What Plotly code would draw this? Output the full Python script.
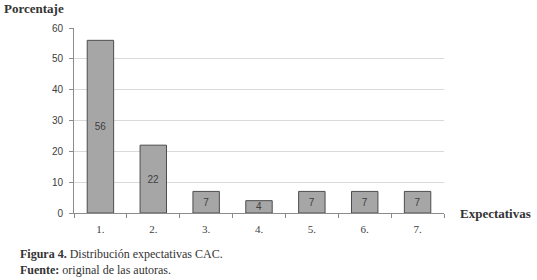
import plotly.graph_objects as go

categories = ["1.", "2.", "3.", "4.", "5.", "6.", "7."]
values = [56, 22, 7, 4, 7, 7, 7]
y_ticks = [0, 10, 20, 30, 40, 50, 60]

fig = go.Figure()
fig.add_trace(go.Bar(
    x=categories, y=values,
    text=[str(v) for v in values],
    textposition="inside", insidetextanchor="middle",
    constraintext="none", textangle=0,
    textfont=dict(family="Liberation Sans, Arial", size=10, color="#404040"),
    marker=dict(color="#a6a6a6", line=dict(color="#4d4d4d", width=1)),
    width=0.5,
    cliponaxis=False,
))

fig.update_layout(
    width=537, height=280,
    margin=dict(l=74, r=93, t=28, b=67),
    plot_bgcolor="white", paper_bgcolor="white",
    showlegend=False,
    uniformtext=dict(minsize=10, mode="show"),
    xaxis=dict(
        type="category", showgrid=False, showline=True, linecolor="#8c8c8c", linewidth=1,
        ticks="outside", tickson="boundaries", ticklen=4, tickcolor="#8c8c8c",
        tickfont=dict(family="Liberation Serif, Times New Roman", size=11, color="#404040"),
        ticklabelstandoff=6,
        range=[-0.5, 6.5],
    ),
    yaxis=dict(
        range=[0, 60], tickvals=y_ticks, showgrid=True, gridcolor="#d9d9d9", gridwidth=1,
        showline=True, linecolor="#8c8c8c", linewidth=1,
        ticks="outside", ticklen=4, tickcolor="#8c8c8c",
        tickfont=dict(family="Liberation Sans, Arial", size=10, color="#404040"),
        ticklabelstandoff=4,
        zeroline=False,
    ),
    font=dict(family="Liberation Serif"),
)

fig.add_annotation(text="<b>Porcentaje</b>", xref="paper", yref="paper", x=-72/370, y=1 + 20/185,
                   xanchor="left", yanchor="middle", showarrow=False,
                   font=dict(family="Liberation Serif, Times New Roman", size=13, color="#333333"))
fig.add_annotation(text="<b>Expectativas</b>", xref="paper", yref="paper", x=1 + 14/370, y=0,
                   xanchor="left", yanchor="middle", showarrow=False,
                   font=dict(family="Liberation Serif, Times New Roman", size=13, color="#333333"))
fig.add_annotation(text="<b>Figura 4.</b> Distribución expectativas CAC.<br><b>Fuente:</b> original de las autoras.",
                   xref="paper", yref="paper", x=-56/370, y=-32/185,
                   xanchor="left", yanchor="top", align="left", showarrow=False,
                   font=dict(family="Liberation Serif, Times New Roman", size=12, color="#333333"))

fig.write_html("out.html", config={"displayModeBar": False},
               post_script="document.body.style.margin='0';document.body.style.overflow='hidden';")
